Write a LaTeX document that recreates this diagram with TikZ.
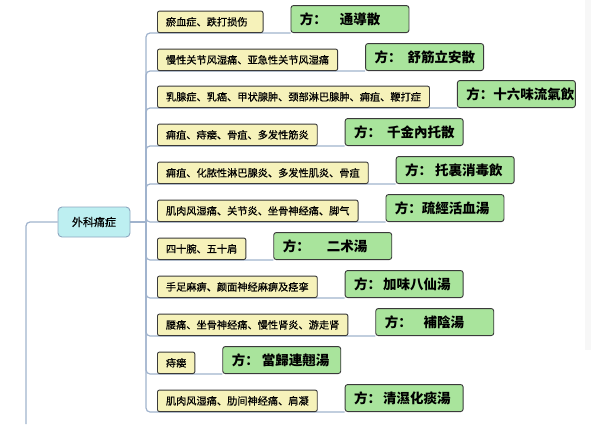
\documentclass[tikz,border=0pt]{standalone}
\usepackage{fontspec}
\setmainfont{Noto Sans CJK SC}
\newfontfamily\medfont{Noto Sans CJK SC}[FakeBold=0.5]
\usetikzlibrary{calc}
\pgfdeclarelayer{background}
\pgfsetlayers{background,main}
\definecolor{yelc}{HTML}{F6F2BA}
\definecolor{grnc}{HTML}{A9E49C}
\definecolor{cyac}{HTML}{BDEFF1}
\definecolor{connc}{HTML}{A0B3CD}
\definecolor{bordc}{HTML}{3A3A3A}
\definecolor{rootb}{HTML}{8DA6BF}
\tikzset{
  conn/.style={draw=connc, line width=1.2pt, rounded corners=4pt},
  yel/.style={draw=bordc, fill=yelc, line width=0.9pt, rounded corners=2pt,
    font=\medfont\fontsize{10.2}{12}\selectfont, minimum height=21.5pt,
    inner xsep=8.5pt, inner ysep=0pt, anchor=south west},
  grn/.style={draw=bordc, fill=grnc, line width=0.9pt, rounded corners=2.5pt,
    font=\fontsize{13.5}{15}\selectfont\bfseries, minimum height=27pt,
    inner xsep=9pt, inner ysep=0pt, anchor=south west},
  rootbox/.style={draw=rootb, fill=cyac, line width=0.9pt, rounded corners=4pt,
    font=\medfont\fontsize{11}{13}\selectfont, minimum width=72pt, minimum height=30pt}
}
\newcommand{\fang}[2]{\makebox[100pt][l]{方：\hspace*{#1}#2}}
\begin{document}
\begin{tikzpicture}[x=1pt,y=-1pt]
\useasboundingbox (0,0) rectangle (591,424);
\fill[black!3] (585,0) rectangle (591,350);

\node[rootbox] (root) at (94,222) {外科痛症};
\coordinate (j) at (146,222);
\coordinate (p) at (26,424);

\node[yel] (y1) at (157,33) {瘀血症、跌打损伤\hspace*{7pt}};
\node[grn] (g1) at ([xshift=27pt]y1.south east) {\fang{13pt}{通導散}};

\node[yel] (y2) at (157,71) {慢性关节风湿痛、亚急性关节风湿痛};
\node[grn] (g2) at ([xshift=27pt]y2.south east) {\fang{6pt}{舒筋立安散}};

\node[yel] (y3) at (157,108) {乳腺症、乳癌、甲状腺肿、颈部淋巴腺肿、痈疽、鞭打症};
\node[grn] (g3) at ([xshift=27pt]y3.south east) {\fang{0pt}{十六味流氣飲}};

\node[yel] (y4) at (157,146) {痈疽、痔瘘、骨疽、多发性筋炎};
\node[grn] (g4) at ([xshift=27pt]y4.south east) {\fang{6pt}{千金內托散}};

\node[yel] (y5) at (157,184) {痈疽、化脓性淋巴腺炎、多发性肌炎、骨疽};
\node[grn] (g5) at ([xshift=27pt]y5.south east) {\fang{3pt}{托裏消毒飲}};

\node[yel] (y6) at (157,222) {肌肉风湿痛、关节炎、坐骨神经痛、脚气};
\node[grn] (g6) at ([xshift=27pt]y6.south east) {\fang{0pt}{疏經活血湯}};

\node[yel] (y7) at (157,260) {四十腕、五十肩};
\node[grn] (g7) at ([xshift=27pt]y7.south east) {\fang{17pt}{二术湯}};

\node[yel] (y8) at (157,298) {手足麻痹、颜面神经麻痹及痉挛};
\node[grn] (g8) at ([xshift=27pt]y8.south east) {\fang{2pt}{加味八仙湯}};

\node[yel] (y9) at (157,336) {腰痛、坐骨神经痛、慢性肾炎、游走肾};
\node[grn] (g9) at ([xshift=27pt]y9.south east) {\fang{12pt}{補陰湯}};

\node[yel] (y10) at (157,374) {痔瘘};
\node[grn] (g10) at ([xshift=27pt]y10.south east) {\fang{3pt}{當歸連翹湯}};

\node[yel] (y11) at (157,412) {肌肉风湿痛、肋间神经痛、肩凝};
\node[grn] (g11) at ([xshift=27pt]y11.south east) {\fang{2pt}{清濕化痰湯}};

\begin{pgfonlayer}{background}
  \draw[conn] (root.west) -| (p);
  \draw[conn] (root.east) -- (j);
  \foreach \i in {1,...,11} {
    \draw[conn] (j) |- (y\i.south west) -- (g\i.south west);
  }
\end{pgfonlayer}
\end{tikzpicture}
\end{document}
